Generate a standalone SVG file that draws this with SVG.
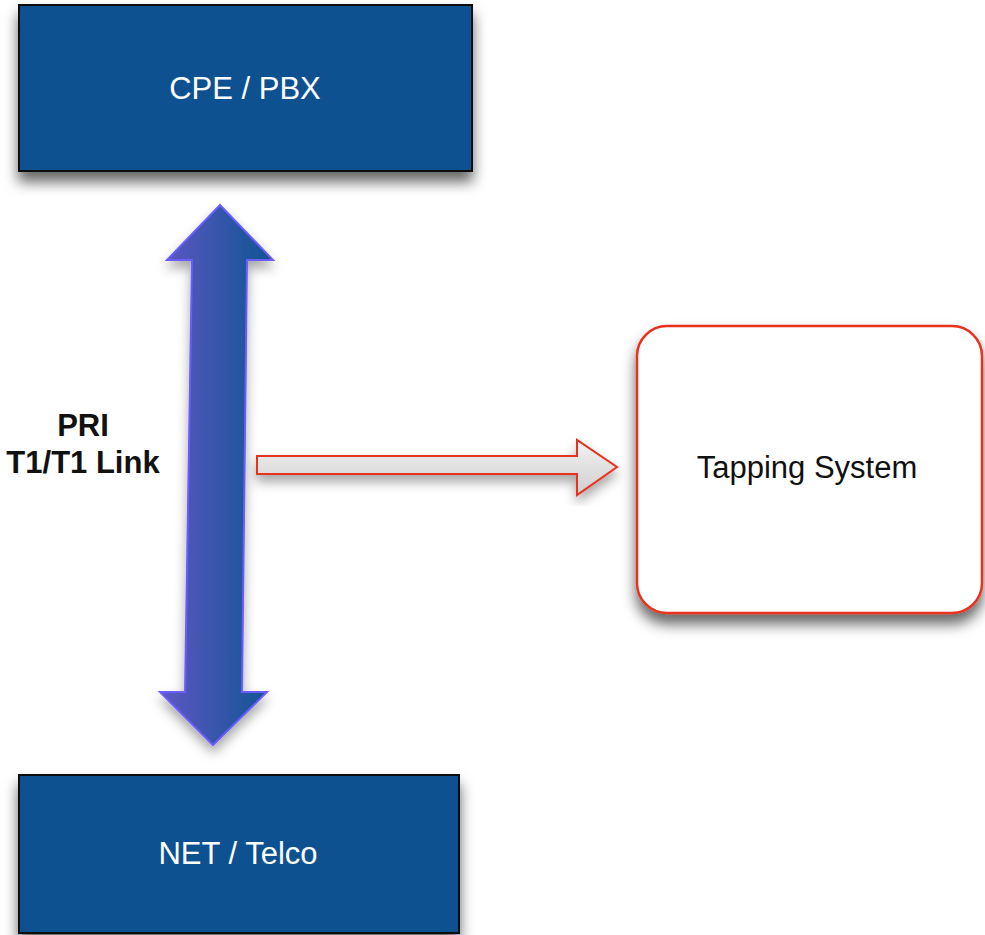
<svg xmlns="http://www.w3.org/2000/svg" width="985" height="935" viewBox="0 0 985 935">
  <defs>
    <filter id="shadow" x="-20%" y="-20%" width="140%" height="160%">
      <feDropShadow dx="0" dy="10" stdDeviation="7" flood-color="#000" flood-opacity="0.6"/>
    </filter>
    <filter id="softShadow" x="-30%" y="-10%" width="160%" height="130%">
      <feDropShadow dx="0" dy="7" stdDeviation="6" flood-color="#000" flood-opacity="0.35"/>
    </filter>
    <linearGradient id="linkFill" x1="0" y1="0" x2="1" y2="0">
      <stop offset="0" stop-color="#5f58c4"/>
      <stop offset="1" stop-color="#0f5392"/>
    </linearGradient>
    <linearGradient id="tapFill" x1="0" y1="0" x2="0" y2="1">
      <stop offset="0" stop-color="#f2f2f2"/>
      <stop offset="1" stop-color="#cfcfcf"/>
    </linearGradient>
  </defs>
  <style>
    .box { fill: #0d5190; stroke: #111; stroke-width: 2; }
    .boxText { font-family: "Liberation Sans", Arial, sans-serif; font-size: 31px; fill: #fff; text-anchor: middle; }
    .label { font-family: "Liberation Sans", Arial, sans-serif; font-size: 31px; font-weight: bold; fill: #111; text-anchor: middle; }
    .tapText { font-family: "Liberation Sans", Arial, sans-serif; font-size: 31px; fill: #111; text-anchor: middle; }
  </style>
  <rect width="985" height="935" fill="#fff"/>

  <g id="cpe-pbx">
    <rect class="box" x="19" y="5" width="453" height="166" filter="url(#shadow)"/>
    <text class="boxText" x="245" y="99">CPE / PBX</text>
  </g>

  <g id="net-telco">
    <rect class="box" x="19" y="775" width="440" height="158" filter="url(#shadow)"/>
    <text class="boxText" x="238" y="864">NET / Telco</text>
  </g>

  <g id="tapping-system">
    <rect x="637" y="326" width="345" height="287" rx="30" ry="30" fill="#fff" stroke="#e8301f" stroke-width="2.5" filter="url(#shadow)"/>
    <text class="tapText" x="807" y="478">Tapping System</text>
  </g>

  <g id="connectors">
    <!-- PRI link between CPE and NET -->
    <polygon points="220,205 273,260 247,260 242,692 267,692 213,745 160,692 185,692 192,260 167,260" fill="url(#linkFill)" stroke="#6a5cff" stroke-width="2" stroke-linejoin="miter" filter="url(#softShadow)"/>
    <!-- tap feed -->
    <polygon points="257,456 577,456 577,440 617,467 577,495 577,474 257,474" fill="url(#tapFill)" stroke="#e8301f" stroke-width="2" filter="url(#softShadow)"/>
  </g>

  <g id="link-label">
    <text class="label" x="83" y="436">PRI</text>
    <text class="label" x="83" y="473">T1/T1 Link</text>
  </g>
</svg>
